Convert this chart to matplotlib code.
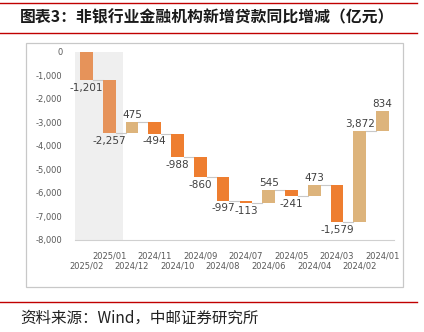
import matplotlib
matplotlib.use("Agg")
import matplotlib.pyplot as plt
import numpy as np
from matplotlib.patches import Rectangle
from matplotlib.lines import Line2D

plt.rcParams['font.family'] = ['Noto Sans CJK SC', 'DejaVu Sans']

# data (亿元)
months = ["2025/02", "2025/01", "2024/12", "2024/11", "2024/10", "2024/09", "2024/08",
          "2024/07", "2024/06", "2024/05", "2024/04", "2024/03", "2024/02", "2024/01"]
changes = [-1201, -2257, 475, -494, -988, -860, -997, -113, 545, -241, 473, -1579, 3872, 834]
yticks = [0, -1000, -2000, -3000, -4000, -5000, -6000, -7000, -8000]

W, H = 424, 332
fig = plt.figure(figsize=(W / 100, H / 100), dpi=100)

def fx(px):
    return px / W

def fy(py):
    return 1 - py / H

# red rules and gray frame
for yy in (3, 33, 302):
    fig.add_artist(Line2D([0, fx(417)], [fy(yy), fy(yy)], color="#C00000", lw=1.0))
fig.add_artist(Rectangle((fx(26), fy(287)), fx(403) - fx(26), fy(43) - fy(287),
                         fill=False, edgecolor="#C8C8C8", lw=0.9))

fig.text(fx(20), fy(17), "图表3：非银行业金融机构新增贷款同比增减（亿元）",
         fontsize=11.4, fontweight="bold", va="center", ha="left", color="#1a1a1a")
fig.text(fx(20), fy(318), "资料来源：Wind，中邮证券研究所",
         fontsize=11.2, va="center", ha="left", color="#222222")

ax = fig.add_axes([fx(75), fy(240), fx(394) - fx(75), fy(51.7) - fy(240)])

n = len(changes)
x = np.arange(n)
ends = np.cumsum(changes)
starts = ends - np.array(changes)

ax.axvspan(-0.5, 1.62, color="#EFEFEF", zorder=0, lw=0)

bw = 0.56
for i in range(n):
    if i < 2:
        c = "#E6935A"
    elif changes[i] < 0:
        c = "#EE7E30"
    else:
        c = "#DDB47C"
    bottom = min(starts[i], ends[i])
    ax.bar(x[i], abs(changes[i]), bottom=bottom, width=bw, color=c, zorder=2)
    if i < n - 1:
        ax.plot([x[i] + bw / 2, x[i + 1] - bw / 2], [ends[i], ends[i]],
                color="#C8C8C8", lw=0.8, zorder=1)
    lab = f"{changes[i]:,}"
    if changes[i] < 0:
        ax.annotate(lab, (x[i], bottom), xytext=(0, -2), textcoords="offset points",
                    ha="center", va="top", fontsize=7.5, color="#404040",
                    family=["DejaVu Sans"])
    else:
        ax.annotate(lab, (x[i], max(starts[i], ends[i])), xytext=(0, 1.5),
                    textcoords="offset points", ha="center", va="bottom",
                    fontsize=7.5, color="#404040", family=["DejaVu Sans"])

ax.set_xlim(-0.5, n - 0.5)
ax.set_ylim(-8000, 0)
ax.set_yticks(yticks)
ax.set_yticklabels([f"{v:,}" for v in yticks], fontsize=6, color="#595959",
                   family=["DejaVu Sans"])
ax.tick_params(axis="y", length=0, pad=9)
ax.set_xticks(x)
ax.set_xticklabels([])
ax.tick_params(axis="x", length=0)
for i, m in enumerate(months):
    off = -26 if i % 2 == 0 else -16
    ax.annotate(m, (x[i], -8000), xytext=(0, off * 0.72), textcoords="offset points",
                ha="center", va="center", fontsize=6, color="#595959",
                family=["DejaVu Sans"], annotation_clip=False)

for s in ("left", "right", "top"):
    ax.spines[s].set_visible(False)
ax.spines["bottom"].set_color("#D0D0D0")
ax.spines["bottom"].set_linewidth(0.8)
ax.patch.set_alpha(0)

fig.savefig("out.png", dpi=100)
